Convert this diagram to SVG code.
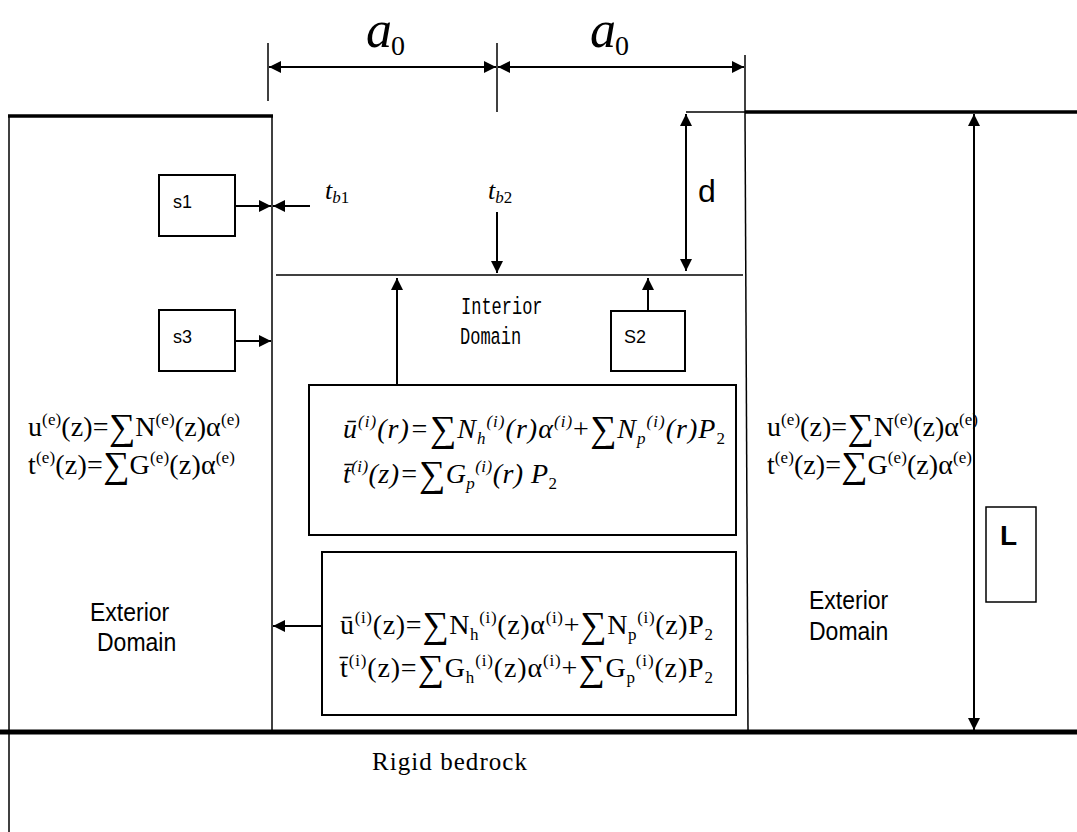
<svg xmlns="http://www.w3.org/2000/svg" width="1077" height="832" viewBox="0 0 1077 832">
<defs>
<marker id="ah" viewBox="0 0 12 12" refX="12" refY="6" markerWidth="12" markerHeight="12" markerUnits="userSpaceOnUse" orient="auto-start-reverse">
<path d="M0,0 L12,6 L0,12 z" fill="#000"/>
</marker>
<style>
.thin{stroke:#000;stroke-width:1.5;fill:none}
.thick{stroke:#000;stroke-width:3.5;fill:none}
.conn{stroke:#000;stroke-width:2;fill:none}
.box{stroke:#000;stroke-width:2;fill:#fff}
.sans{font-family:"Liberation Sans",Arial,sans-serif;fill:#000}
.serif{font-family:"Liberation Serif","Times New Roman",serif;fill:#000}
.eq{font-family:"Liberation Serif","Times New Roman",serif;font-size:28px;fill:#000}
.s{font-size:17px}
.sum{font-size:37px}
.mono{font-family:"Liberation Mono","Courier New",monospace;font-size:17px;fill:#000}
</style>
</defs>
<rect width="1077" height="832" fill="#fff"/>

<g id="structure">
<line class="thin" x1="9" y1="115" x2="9" y2="832" stroke-width="2"/>
<line class="thick" x1="8" y1="116" x2="273" y2="116"/>
<line class="thin" x1="272" y1="116" x2="272" y2="731"/>
<line class="thick" x1="745" y1="112" x2="1077" y2="112"/>
<line class="thin" x1="686" y1="112" x2="745" y2="112" stroke-width="1.2"/>
<line class="thin" x1="745" y1="112" x2="748" y2="731"/>
<line class="thin" x1="276" y1="275" x2="743" y2="275"/>
<line x1="0" y1="732" x2="1077" y2="732" stroke="#000" stroke-width="5"/>
<line class="thin" x1="268" y1="43" x2="268" y2="101"/>
<line class="thin" x1="497" y1="43" x2="497" y2="112"/>
<line class="thin" x1="745" y1="55" x2="745" y2="112"/>
</g>

<g id="connectors">
<line class="conn" x1="269" y1="67" x2="496" y2="67" marker-start="url(#ah)" marker-end="url(#ah)"/>
<line class="conn" x1="498" y1="67" x2="744" y2="67" marker-start="url(#ah)" marker-end="url(#ah)"/>
<line class="conn" x1="235" y1="206" x2="271" y2="206" marker-end="url(#ah)"/>
<line class="conn" x1="310" y1="206" x2="273" y2="206" marker-end="url(#ah)"/>
<line class="conn" x1="497" y1="212" x2="497" y2="273" marker-end="url(#ah)"/>
<line class="conn" x1="686" y1="114" x2="686" y2="271" marker-start="url(#ah)" marker-end="url(#ah)"/>
<line class="conn" x1="235" y1="341" x2="271" y2="341" marker-end="url(#ah)"/>
<line class="conn" x1="397" y1="384" x2="397" y2="278" marker-end="url(#ah)"/>
<line class="conn" x1="648" y1="311" x2="648" y2="278" marker-end="url(#ah)"/>
<line class="conn" x1="321" y1="626" x2="273" y2="626" marker-end="url(#ah)"/>
<line class="conn" x1="974" y1="114" x2="974" y2="730" marker-start="url(#ah)" marker-end="url(#ah)"/>
</g>

<g id="dimension-labels">
<text class="serif" x="366" y="47" font-size="52" font-style="italic">a<tspan font-size="28" font-style="normal" dx="-1" dy="8">0</tspan></text>
<text class="serif" x="590" y="47" font-size="52" font-style="italic">a<tspan font-size="28" font-style="normal" dx="-1" dy="8">0</tspan></text>
<text class="serif" x="325" y="199" font-size="26" font-style="italic">t<tspan font-size="17" dy="4">b</tspan><tspan font-size="17" font-style="normal">1</tspan></text>
<text class="serif" x="488" y="199" font-size="26" font-style="italic">t<tspan font-size="17" dy="4">b</tspan><tspan font-size="17" font-style="normal">2</tspan></text>
<text class="sans" x="698" y="202" font-size="32">d</text>
</g>

<g id="s1">
<rect class="box" x="159" y="175" width="76" height="61"/>
<text class="sans" x="173" y="208" font-size="18">s1</text>
</g>
<g id="s3">
<rect class="box" x="159" y="310" width="76" height="61"/>
<text class="sans" x="173" y="343" font-size="18">s3</text>
</g>
<g id="s2">
<rect class="box" x="611" y="311" width="74" height="60"/>
<text class="sans" x="624" y="343" font-size="18">S2</text>
</g>
<g id="L">
<rect class="thin" x="986" y="507" width="50" height="95"/>
<text class="sans" x="1000" y="545" font-size="28" font-weight="bold">L</text>
</g>

<g id="interior-domain">
<text class="mono" transform="translate(461,314) scale(1,1.45)">Interior</text>
<text class="mono" transform="translate(460,344) scale(1,1.45)">Domain</text>
</g>

<g id="left-exterior">
<text class="eq" x="28" y="436" textLength="212">u<tspan class="s" dy="-11">(e)</tspan><tspan dy="11">(z)=</tspan><tspan class="sum" dy="3">∑</tspan><tspan dy="-3">N</tspan><tspan class="s" dy="-11">(e)</tspan><tspan dy="11">(z)α</tspan><tspan class="s" dy="-11">(e)</tspan></text>
<text class="eq" x="28" y="474" textLength="207">t<tspan class="s" dy="-11">(e)</tspan><tspan dy="11">(z)=</tspan><tspan class="sum" dy="3">∑</tspan><tspan dy="-3">G</tspan><tspan class="s" dy="-11">(e)</tspan><tspan dy="11">(z)α</tspan><tspan class="s" dy="-11">(e)</tspan></text>
<text class="sans" transform="translate(90,621) scale(0.92,1)" font-size="25">Exterior</text>
<text class="sans" transform="translate(97,651) scale(0.92,1)" font-size="25">Domain</text>
</g>

<g id="right-exterior">
<text class="eq" x="767" y="436" textLength="211">u<tspan class="s" dy="-11">(e)</tspan><tspan dy="11">(z)=</tspan><tspan class="sum" dy="3">∑</tspan><tspan dy="-3">N</tspan><tspan class="s" dy="-11">(e)</tspan><tspan dy="11">(z)α</tspan><tspan class="s" dy="-11">(e)</tspan></text>
<text class="eq" x="767" y="474" textLength="205">t<tspan class="s" dy="-11">(e)</tspan><tspan dy="11">(z)=</tspan><tspan class="sum" dy="3">∑</tspan><tspan dy="-3">G</tspan><tspan class="s" dy="-11">(e)</tspan><tspan dy="11">(z)α</tspan><tspan class="s" dy="-11">(e)</tspan></text>
<text class="sans" transform="translate(809,609) scale(0.92,1)" font-size="25">Exterior</text>
<text class="sans" transform="translate(809,640) scale(0.92,1)" font-size="25">Domain</text>
</g>

<g id="interior-box-1">
<rect class="box" x="309" y="385" width="427" height="150" stroke-width="2.5"/>
<text class="eq" x="343" y="438" font-style="italic" textLength="382">ū<tspan class="s" dy="-11">(i)</tspan><tspan dy="11">(r)=</tspan><tspan class="sum" font-style="normal" dy="3">∑</tspan><tspan dy="-3">N</tspan><tspan class="s" dy="6">h</tspan><tspan class="s" dy="-17">(i)</tspan><tspan dy="11">(r)α</tspan><tspan class="s" dy="-11">(i)</tspan><tspan dy="11" font-style="normal">+</tspan><tspan class="sum" font-style="normal" dy="3">∑</tspan><tspan dy="-3">N</tspan><tspan class="s" dy="6">p</tspan><tspan class="s" dy="-17">(i)</tspan><tspan dy="11">(r)P</tspan><tspan class="s" font-style="normal" dy="6">2</tspan></text>
<text class="eq" x="343" y="483" font-style="italic" textLength="214">t̄<tspan class="s" dy="-11">(i)</tspan><tspan dy="11">(z)=</tspan><tspan class="sum" font-style="normal" dy="3">∑</tspan><tspan dy="-3">G</tspan><tspan class="s" dy="6">p</tspan><tspan class="s" dy="-17">(i)</tspan><tspan dy="11">(r) P</tspan><tspan class="s" font-style="normal" dy="6">2</tspan></text>
</g>

<g id="interior-box-2">
<rect class="box" x="322" y="552" width="414" height="163"/>
<text class="eq" x="340" y="634" textLength="373">ū<tspan class="s" dy="-11">(i)</tspan><tspan dy="11">(z)=</tspan><tspan class="sum" dy="3">∑</tspan><tspan dy="-3">N</tspan><tspan class="s" dy="6">h</tspan><tspan class="s" dy="-17">(i)</tspan><tspan dy="11">(z)α</tspan><tspan class="s" dy="-11">(i)</tspan><tspan dy="11">+</tspan><tspan class="sum" dy="3">∑</tspan><tspan dy="-3">N</tspan><tspan class="s" dy="6">p</tspan><tspan class="s" dy="-17">(i)</tspan><tspan dy="11">(z)P</tspan><tspan class="s" dy="6">2</tspan></text>
<text class="eq" x="340" y="677" textLength="373">t̄<tspan class="s" dy="-11">(i)</tspan><tspan dy="11">(z)=</tspan><tspan class="sum" dy="3">∑</tspan><tspan dy="-3">G</tspan><tspan class="s" dy="6">h</tspan><tspan class="s" dy="-17">(i)</tspan><tspan dy="11">(z)α</tspan><tspan class="s" dy="-11">(i)</tspan><tspan dy="11">+</tspan><tspan class="sum" dy="3">∑</tspan><tspan dy="-3">G</tspan><tspan class="s" dy="6">p</tspan><tspan class="s" dy="-17">(i)</tspan><tspan dy="11">(z)P</tspan><tspan class="s" dy="6">2</tspan></text>
</g>

<g id="bedrock">
<text class="serif" x="372" y="770" font-size="25" textLength="155">Rigid bedrock</text>
</g>
</svg>
